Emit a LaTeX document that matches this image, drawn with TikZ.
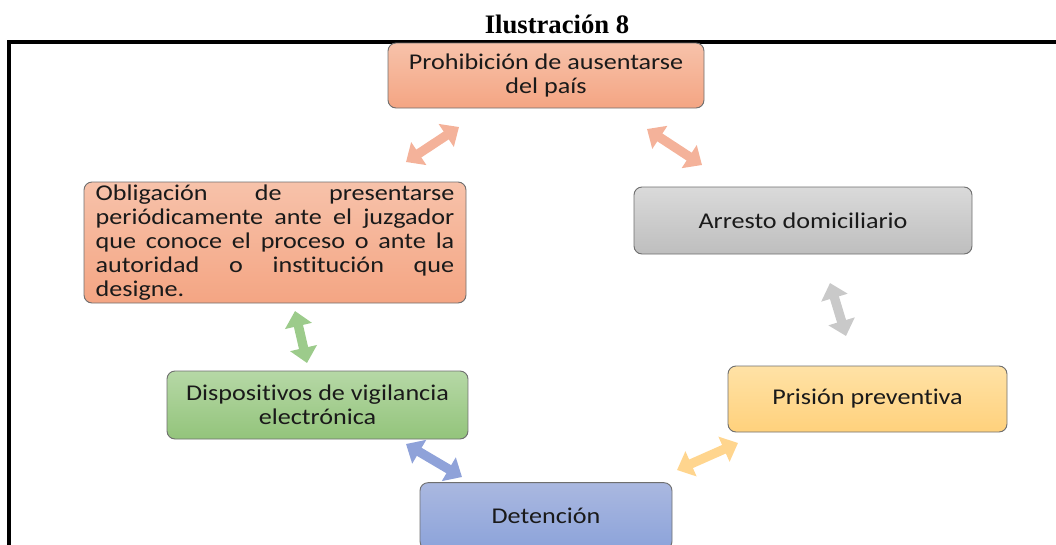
\documentclass[tikz,border=0pt]{standalone}
\usepackage{fontspec}
\setmainfont{Carlito}[FakeStretch=1.16, Ligatures={NoCommon}]
\newfontfamily\titlefont{Liberation Serif}
\usetikzlibrary{arrows.meta}
\definecolor{salT}{HTML}{F7C2AA}
\definecolor{salB}{HTML}{F4A583}
\definecolor{gryT}{HTML}{DADADA}
\definecolor{gryB}{HTML}{BEBEBE}
\definecolor{grnT}{HTML}{B6D8A6}
\definecolor{grnB}{HTML}{93C47B}
\definecolor{ylwT}{HTML}{FFE2A6}
\definecolor{ylwB}{HTML}{FFD17C}
\definecolor{bluT}{HTML}{AAB8E0}
\definecolor{bluB}{HTML}{8CA3DA}
\definecolor{salA}{HTML}{F4B29A}
\definecolor{gryA}{HTML}{C9C9C9}
\definecolor{grnA}{HTML}{9CCB8B}
\definecolor{bluA}{HTML}{8FA2D9}
\definecolor{ylwA}{HTML}{FFD58E}
\definecolor{txt}{HTML}{1A1A1A}
\definecolor{edge}{HTML}{6F6F6F}
\tikzset{
  cbox/.style={rectangle, rounded corners=6pt, draw=edge, line width=0.7pt,
    text=txt, align=center, inner sep=0pt,
    font=\fontsize{16.9}{18}\selectfont},
  dblarrow/.style={line width=7pt,
    {Triangle[width=20pt,length=11.5pt]}-{Triangle[width=20pt,length=11.5pt]}}
}
\begin{document}
\begin{tikzpicture}[x=0.75pt,y=-0.75pt]
\clip (0,0) rectangle (1056,544);
\node[font=\titlefont\bfseries\fontsize{20}{24}\selectfont, anchor=base, inner sep=0pt] (title) at (557,33) {Ilustración 8};
\draw[line width=2.3pt] (9,560) -- (9,42) -- (1070,42);

\node[cbox, top color=salT, bottom color=salB, minimum width=237pt, minimum height=48.75pt] (prohib) at (546,75.5) {Prohibición de ausentarse\\del país};
\node[cbox, top color=salT, bottom color=salB, minimum width=286.5pt, minimum height=90.75pt, align=left] (oblig) at (275,242.5)
 {\makebox[269pt][s]{Obligación de presentarse}\\
  \makebox[269pt][s]{periódicamente ante el juzgador}\\
  \makebox[269pt][s]{que conoce el proceso o ante la}\\
  \makebox[269pt][s]{autoridad o institución que}\\
  \makebox[269pt][l]{designe.}};
\node[cbox, top color=gryT, bottom color=gryB, minimum width=253.5pt, minimum height=50.25pt] (arresto) at (803,220.5) {Arresto domiciliario};
\node[cbox, top color=grnT, bottom color=grnB, minimum width=225.75pt, minimum height=51pt] (disp) at (317.5,405) {Dispositivos de vigilancia\\electrónica};
\node[cbox, top color=ylwT, bottom color=ylwB, minimum width=209.25pt, minimum height=49.5pt] (prision) at (867.5,399) {Prisión preventiva};
\node[cbox, top color=bluT, bottom color=bluB, minimum width=189pt, minimum height=50pt] (deten) at (546,516) {Detención};

\coordinate (a1s) at (406,162);
\coordinate (a1e) at (459,127);
\coordinate (a2s) at (647,129);
\coordinate (a2e) at (702,165);
\coordinate (a3s) at (830,283);
\coordinate (a3e) at (846,336);
\coordinate (a4s) at (295,311);
\coordinate (a4e) at (307,363);
\coordinate (a5s) at (406,444);
\coordinate (a5e) at (462,477);
\coordinate (a6s) at (677,470);
\coordinate (a6e) at (738,443);

\draw[dblarrow, salA] (a1s) -- (a1e);
\draw[dblarrow, salA] (a2s) -- (a2e);
\draw[dblarrow, gryA] (a3s) -- (a3e);
\draw[dblarrow, grnA] (a4s) -- (a4e);
\draw[dblarrow, bluA] (a5s) -- (a5e);
\draw[dblarrow, ylwA] (a6s) -- (a6e);
\end{tikzpicture}
\end{document}
